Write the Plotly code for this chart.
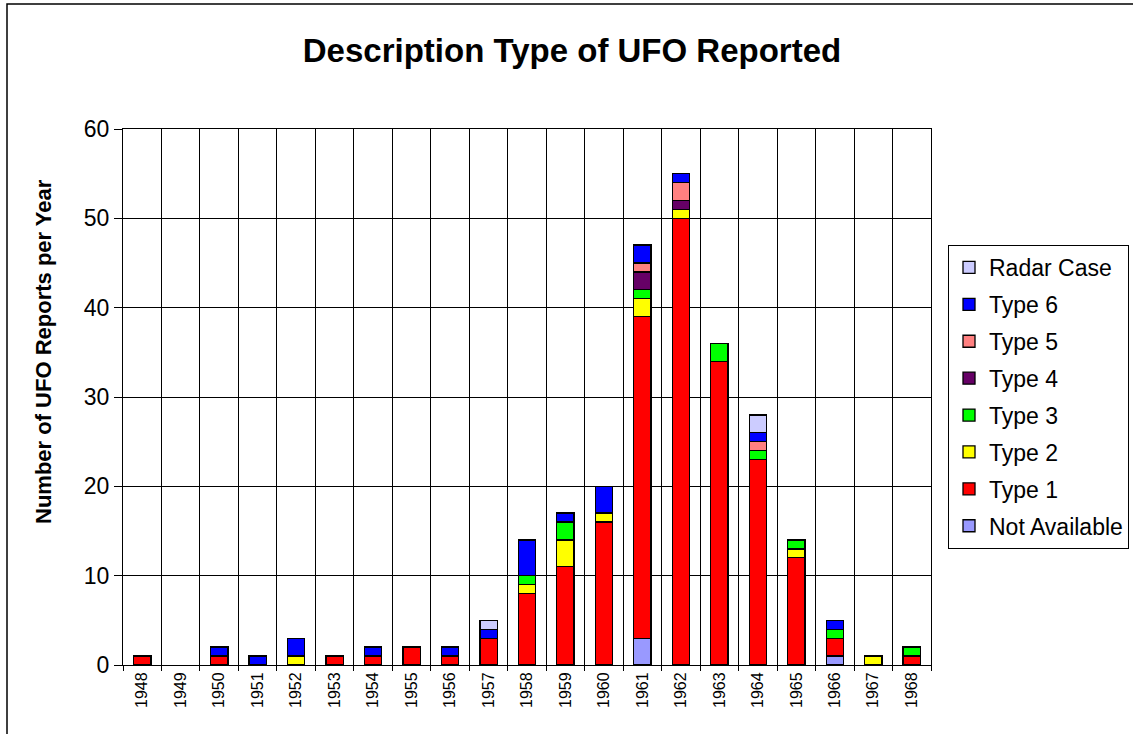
import plotly.graph_objects as go

years = [str(y) for y in range(1948, 1969)]

not_available = [0, 0, 0, 0, 0, 0, 0, 0, 0, 0, 0, 0, 0, 3, 0, 0, 0, 0, 1, 0, 0]
type_1 = [1, 0, 1, 0, 0, 1, 1, 2, 1, 3, 8, 11, 16, 36, 50, 34, 23, 12, 2, 0, 1]
type_2 = [0, 0, 0, 0, 1, 0, 0, 0, 0, 0, 1, 3, 1, 2, 1, 0, 0, 1, 0, 1, 0]
type_3 = [0, 0, 0, 0, 0, 0, 0, 0, 0, 0, 1, 2, 0, 1, 0, 2, 1, 1, 1, 0, 1]
type_4 = [0, 0, 0, 0, 0, 0, 0, 0, 0, 0, 0, 0, 0, 2, 1, 0, 0, 0, 0, 0, 0]
type_5 = [0, 0, 0, 0, 0, 0, 0, 0, 0, 0, 0, 0, 0, 1, 2, 0, 1, 0, 0, 0, 0]
type_6 = [0, 0, 1, 1, 2, 0, 1, 0, 1, 1, 4, 1, 3, 2, 1, 0, 1, 0, 1, 0, 0]
radar_case = [0, 0, 0, 0, 0, 0, 0, 0, 0, 1, 0, 0, 0, 0, 0, 0, 2, 0, 0, 0, 0]

series = [
    ("Not Available", not_available, "#9999FF"),
    ("Type 1", type_1, "#FF0000"),
    ("Type 2", type_2, "#FFFF00"),
    ("Type 3", type_3, "#00FF00"),
    ("Type 4", type_4, "#660066"),
    ("Type 5", type_5, "#FF8080"),
    ("Type 6", type_6, "#0000FF"),
    ("Radar Case", radar_case, "#CCCCFF"),
]

fig = go.Figure()
for i, (name, vals, color) in enumerate(series):
    # zero segments left out so no empty outlines get drawn
    fig.add_trace(go.Bar(
        x=years, y=[v if v else None for v in vals], name=name,
        legendgroup=name, legendrank=100 - i,
        marker=dict(color=color, line=dict(color="black", width=1.3)),
    ))

# plot area in pixels: x 123..931, y 129..665
L, R, T, B = 123, 931, 129, 665
W, H = 1133, 734
pw, ph = R - L, B - T

fig.update_layout(
    width=W, height=H,
    margin=dict(l=L, r=W - R, t=T, b=H - B, autoexpand=False),
    barmode="stack", bargap=0.55,
    plot_bgcolor="white", paper_bgcolor="white",
    font=dict(family="Arial, Liberation Sans, sans-serif", color="black"),
    title=dict(text="<b>Description Type of UFO Reported</b>",
               font=dict(size=33), x=572 / W, xanchor="center",
               y=1 - 50 / H, yanchor="middle"),
    legend=dict(x=(948 - L) / pw, xanchor="left", y=(B - 245) / ph, yanchor="top",
                bordercolor="black", borderwidth=1, font=dict(size=23),
                traceorder="grouped", tracegroupgap=4,
                itemwidth=30),
    showlegend=True,
)

fig.update_xaxes(
    type="category", tickson="boundaries", ticks="outside", ticklen=5,
    tickcolor="black", showgrid=True, gridcolor="black", gridwidth=1,
    showline=True, linecolor="black", mirror=True, tickangle=-90,
    tickfont=dict(size=16),
)
fig.update_yaxes(
    range=[0, 60], dtick=10, ticks="outside", ticklen=8, tickcolor="black",
    showgrid=True, gridcolor="black", gridwidth=1,
    showline=True, linecolor="black", mirror=True, zeroline=False,
    tickfont=dict(size=23),
)

# y axis title, placed like the original (a bit above the axis middle)
fig.add_annotation(text="<b>Number of UFO Reports per Year</b>", textangle=-90,
                   xref="paper", yref="paper", x=(43 - L) / pw, y=(B - 352) / ph,
                   xanchor="center", yanchor="middle", showarrow=False,
                   font=dict(size=22))

# outer chart frame
fig.add_shape(type="rect", xref="paper", yref="paper",
              x0=(7 - L) / pw, x1=(W + 10 - L) / pw,
              y0=(B - (H + 10)) / ph, y1=(B - 4) / ph,
              line=dict(color="black", width=1.5), fillcolor="rgba(0,0,0,0)", layer="below")

fig.write_html("out.html", config={"displayModeBar": False},
               post_script="document.body.style.margin='0';")
